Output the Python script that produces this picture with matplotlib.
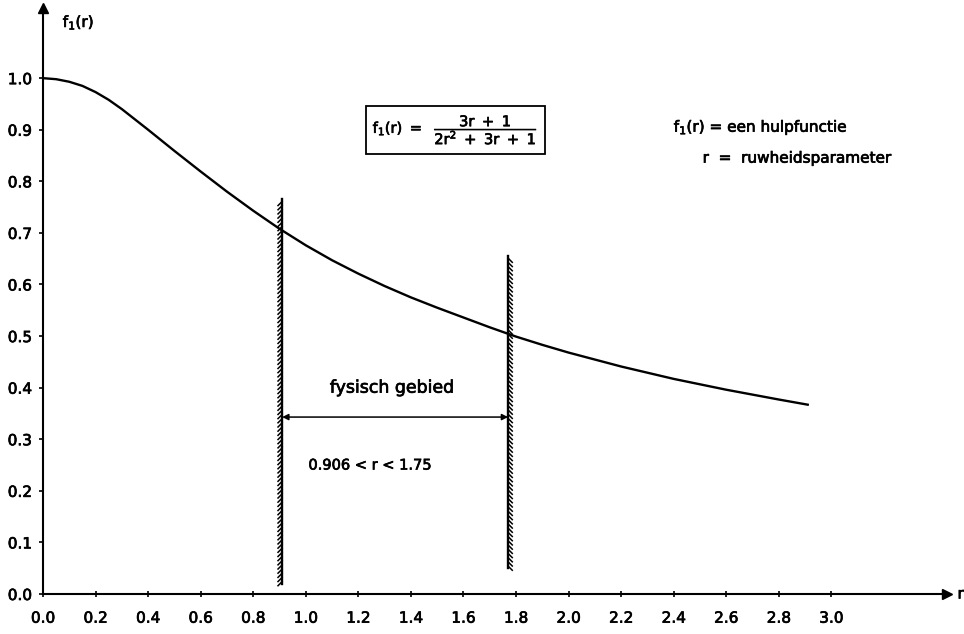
import numpy as np
import matplotlib
matplotlib.use("Agg")
import matplotlib.pyplot as plt
import matplotlib.patheffects as pe

# values
r_vals = [0.0, 0.05, 0.1, 0.15, 0.2, 0.25, 0.3, 0.4, 0.5, 0.6, 0.7, 0.8, 0.9, 1.0, 1.1,
          1.2, 1.3, 1.4, 1.5, 1.6, 1.7, 1.8, 1.9, 2.0, 2.2, 2.4, 2.6, 2.8, 2.91]
f_vals = [1.0, 0.998, 0.993, 0.985, 0.973, 0.958, 0.94, 0.90, 0.859, 0.819, 0.78, 0.743,
          0.708, 0.676, 0.647, 0.621, 0.597, 0.575, 0.555, 0.536, 0.517, 0.499, 0.483,
          0.468, 0.441, 0.417, 0.396, 0.377, 0.367]

x_ticks = [0.0, 0.2, 0.4, 0.6, 0.8, 1.0, 1.2, 1.4, 1.6, 1.8, 2.0, 2.2, 2.4, 2.6, 2.8, 3.0]
y_ticks = [0.0, 0.1, 0.2, 0.3, 0.4, 0.5, 0.6, 0.7, 0.8, 0.9, 1.0]

# physical range boundaries and their drawn extent
r_low, r_high = 0.91, 1.77
low_span = (0.02, 0.765)
high_span = (0.05, 0.655)
arrow_y = 0.343

plt.rcParams['font.family'] = 'DejaVu Sans'
plt.rcParams['mathtext.default'] = 'regular'

# slightly heavier text, like the scanned lettering
ink = [pe.withStroke(linewidth=0.5, foreground='black')]

fig = plt.figure(figsize=(9.64, 6.34), dpi=100)
ax = fig.add_axes([43/964, 40/634, 904/964, 586/634])
ax.set_xlim(0, 3.44)
ax.set_ylim(0, 1.136)

for s in ['top', 'right']:
    ax.spines[s].set_visible(False)
for s in ['left', 'bottom']:
    ax.spines[s].set_linewidth(1.5)

# arrow heads on the axes
ax.plot(1, 0, marker='>', color='black', markersize=7, transform=ax.transAxes, clip_on=False)
ax.plot(0, 1, marker='^', color='black', markersize=7, transform=ax.transAxes, clip_on=False)

ax.set_xticks(x_ticks)
ax.set_xticklabels(['%.1f' % v for v in x_ticks])
ax.set_yticks(y_ticks)
ax.set_yticklabels(['%.1f' % v for v in y_ticks])
ax.tick_params(axis='x', direction='inout', length=4, width=1.2, labelsize=11, pad=10)
ax.tick_params(axis='y', direction='out', length=3, width=1.2, labelsize=11, pad=5)
for lab in ax.get_xticklabels() + ax.get_yticklabels():
    lab.set_path_effects(ink)

# the curve
ax.plot(r_vals, f_vals, color='black', linewidth=1.7)

# hatched boundaries
ax.plot([r_low, r_low], list(low_span), color='black', linewidth=1.7,
        path_effects=[pe.withTickedStroke(spacing=3, angle=135, length=1.4, linewidth=1.1)])
ax.plot([r_high, r_high], list(high_span), color='black', linewidth=1.7,
        path_effects=[pe.withTickedStroke(spacing=3, angle=-135, length=1.4, linewidth=1.1)])

ax.annotate('', xy=(r_low, arrow_y), xytext=(r_high, arrow_y),
            arrowprops=dict(arrowstyle='<|-|>', color='black', lw=1.1,
                            mutation_scale=9, shrinkA=0, shrinkB=0))
ax.text(1.33, 0.40, 'fysisch gebied', ha='center', va='center', fontsize=12.5, path_effects=ink)
ax.text(1.01, 0.25, '0.906 < r < 1.75', ha='left', va='center', fontsize=10.5, path_effects=ink)

# formula box
ax.text(1.57, 0.90, r'$f_1(r)\ =\ \ \dfrac{3r\ +\ 1}{2r^2\ +\ 3r\ +\ 1}$', ha='center', va='center',
        fontsize=10.5, path_effects=ink,
        bbox=dict(boxstyle='square,pad=0.45', fc='white', ec='black', lw=1.3))

ax.text(2.40, 0.905, '$f_1(r)$ = een hulpfunctie', ha='left', va='center', fontsize=11, path_effects=ink)
ax.text(2.51, 0.845, 'r  =  ruwheidsparameter', ha='left', va='center', fontsize=11, path_effects=ink)

# axis labels
ax.text(0.075, 1.108, '$f_1(r)$', ha='left', va='center', fontsize=11, path_effects=ink)
ax.text(3.48, 0.0, 'r', ha='left', va='center', fontsize=11, clip_on=False, path_effects=ink)

fig.savefig('out.png', dpi=100, facecolor='white')
